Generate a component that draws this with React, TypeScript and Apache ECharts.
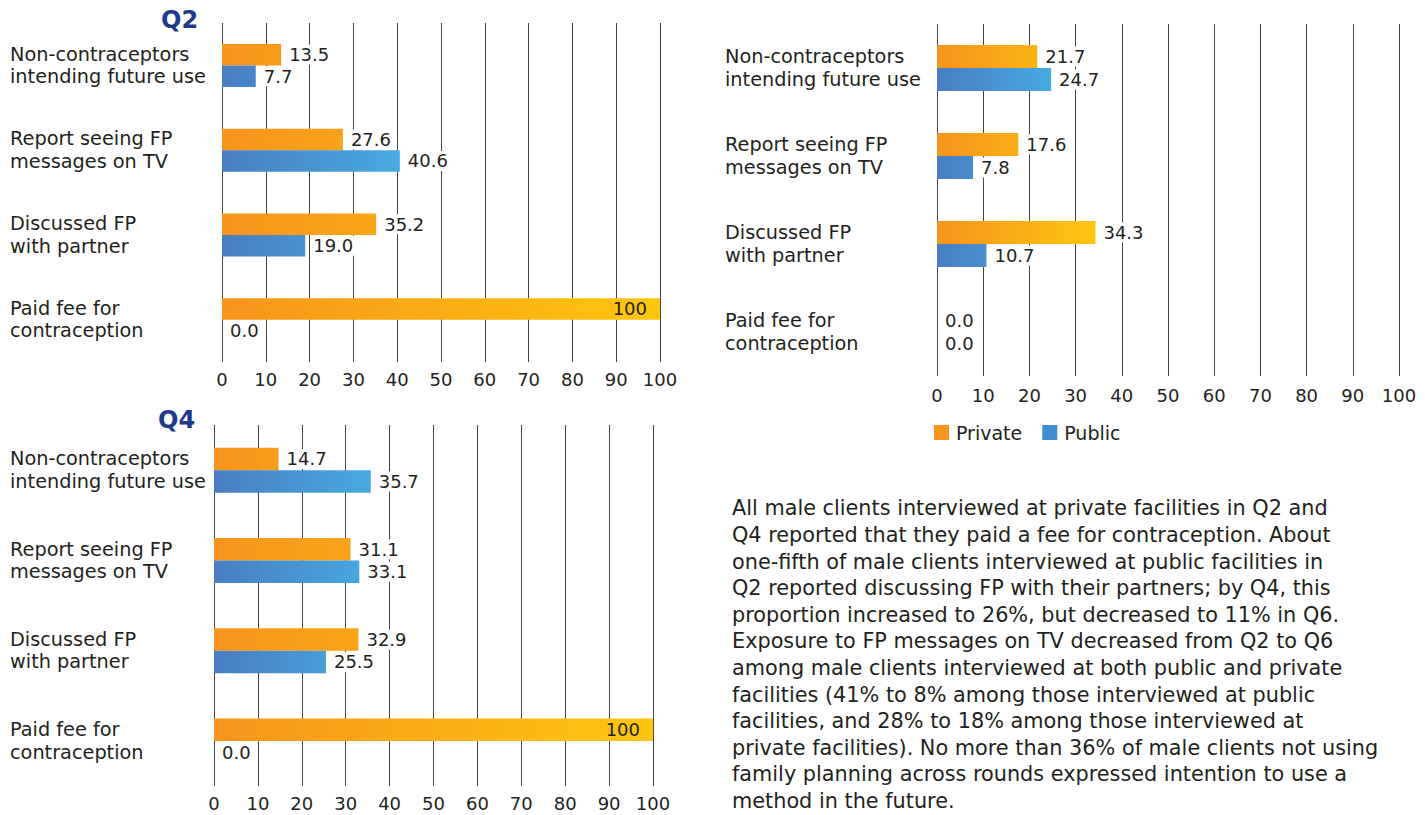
import React, { useEffect, useRef } from "react";
import * as echarts from "echarts";

// Indicator categories (top to bottom)
const categories = [
  "Non-contraceptors\nintending future use",
  "Report seeing FP\nmessages on TV",
  "Discussed FP\nwith partner",
  "Paid fee for\ncontraception",
];

// Percent of male clients, by facility type and round
const q2Private = [13.5, 27.6, 35.2, 100];
const q2Public = [7.7, 40.6, 19.0, 0.0];
const q4Private = [14.7, 31.1, 32.9, 100];
const q4Public = [35.7, 33.1, 25.5, 0.0];
const q6Private = [21.7, 17.6, 34.3, 0.0];
const q6Public = [24.7, 7.8, 10.7, 0.0];

const xTicks = { min: 0, max: 100, interval: 10 };

const paragraphLines = [
  "All male clients interviewed at private facilities in Q2 and",
  "Q4 reported that they paid a fee for contraception. About",
  "one-fifth of male clients interviewed at public facilities in",
  "Q2 reported discussing FP with their partners; by Q4, this",
  "proportion increased to 26%, but decreased to 11% in Q6.",
  "Exposure to FP messages on TV decreased from Q2 to Q6",
  "among male clients interviewed at both public and private",
  "facilities (41% to 8% among those interviewed at public",
  "facilities, and 28% to 18% among those interviewed at",
  "private facilities). No more than 36% of male clients not using",
  "family planning across rounds expressed intention to use a",
  "method in the future.",
];

const FONT = "'DejaVu Sans', sans-serif";
const TEXT = "#231F20";
const GRID_LINE = "#444";
const ORANGE = "#F7941D";
const YELLOW = "#FEC60F";
const BLUE_DARK = "#4A7DC2";
const BLUE_LIGHT = "#47AAE1";

// Panel geometry (pixels)
const panels = [
  { left: 222, top: 23, width: 438, height: 339, labelMargin: 212, tickMargin: 8, barWidth: 21.5, priv: q2Private, pub: q2Public },
  { left: 937, top: 24, width: 462, height: 352, labelMargin: 212, tickMargin: 10, barWidth: 23, priv: q6Private, pub: q6Public },
  { left: 214, top: 425, width: 439, height: 361, labelMargin: 204, tickMargin: 8, barWidth: 22.5, priv: q4Private, pub: q4Public },
];

const fmt = (v: number) => (v === 100 ? "100" : v.toFixed(1));

export default function App() {
  const ref = useRef<HTMLDivElement>(null);

  useEffect(() => {
    if (!ref.current) return;
    const chart = echarts.init(ref.current, undefined, { renderer: "svg" });

    const grid = panels.map((p) => ({ left: p.left, top: p.top, width: p.width, height: p.height, containLabel: false }));

    const xAxis = panels.map((p, i) => ({
      type: "value",
      gridIndex: i,
      min: xTicks.min,
      max: xTicks.max,
      interval: xTicks.interval,
      axisLine: { show: false },
      axisTick: { show: false },
      splitLine: { show: true, lineStyle: { color: GRID_LINE, width: 1 } },
      axisLabel: { color: TEXT, fontSize: 18, fontFamily: FONT, margin: p.tickMargin },
    }));

    const yAxis = panels.map((p, i) => ({
      type: "category",
      gridIndex: i,
      inverse: true,
      data: categories,
      axisLine: { show: false },
      axisTick: { show: false },
      axisLabel: {
        color: TEXT,
        fontSize: 19.3,
        fontFamily: FONT,
        align: "left",
        lineHeight: 22.5,
        margin: p.labelMargin,
      },
    }));

    const valueLabel = (inside: boolean) => ({
      show: true,
      position: inside ? "insideRight" : "right",
      distance: inside ? 13 : 5,
      color: TEXT,
      fontSize: 18,
      fontFamily: FONT,
      backgroundColor: inside ? "transparent" : "#fff",
      padding: inside ? 0 : [1, 3],
      formatter: (pr: any) => fmt(pr.value),
    });

    const series: any[] = [];
    panels.forEach((p, i) => {
      const privMax = Math.max(...p.priv);
      const pubMax = Math.max(...p.pub);
      const privEnd = p.left + (p.width * privMax) / 100;
      const pubEnd = p.left + (p.width * pubMax) / 100;
      const privGrad = new echarts.graphic.LinearGradient(
        p.left, 0, privEnd, 0,
        [{ offset: 0, color: ORANGE }, { offset: 1, color: YELLOW }],
        true
      );
      const pubGrad = new echarts.graphic.LinearGradient(
        p.left, 0, pubEnd, 0,
        [{ offset: 0, color: BLUE_DARK }, { offset: 1, color: BLUE_LIGHT }],
        true
      );
      series.push({
        name: "Private",
        type: "bar",
        xAxisIndex: i,
        yAxisIndex: i,
        barWidth: p.barWidth,
        barGap: "0%",
        itemStyle: { color: privGrad },
        data: p.priv.map((v) => ({ value: v, label: valueLabel(v === 100) })),
      });
      series.push({
        name: "Public",
        type: "bar",
        xAxisIndex: i,
        yAxisIndex: i,
        barWidth: p.barWidth,
        barGap: "0%",
        itemStyle: { color: pubGrad },
        data: p.pub.map((v) => ({ value: v, label: valueLabel(false) })),
      });
    });

    chart.setOption({
      animation: false,
      backgroundColor: "#fff",
      textStyle: { fontFamily: FONT },
      grid,
      xAxis,
      yAxis,
      series,
      legend: {
        left: 929,
        top: 418,
        itemWidth: 15,
        itemHeight: 15,
        itemGap: 20,
        icon: "rect",
        textStyle: { color: TEXT, fontSize: 19, fontFamily: FONT, padding: [0, 0, 0, 2] },
        data: [
          { name: "Private", itemStyle: { color: ORANGE } },
          { name: "Public", itemStyle: { color: "#3F8ED0" } },
        ],
      },
      graphic: [
        {
          type: "text",
          left: 161,
          top: 8,
          style: { text: "Q2", fill: "#20398B", font: `bold 24px ${FONT}` },
        },
        {
          type: "text",
          left: 158,
          top: 408,
          style: { text: "Q4", fill: "#20398B", font: `bold 24px ${FONT}` },
        },
        {
          type: "text",
          left: 732,
          top: 495,
          style: {
            text: paragraphLines.join("\n"),
            fill: TEXT,
            font: `20.8px ${FONT}`,
            lineHeight: 26.6,
          },
        },
      ],
    });

    return () => chart.dispose();
  }, []);

  return (
    <div
      ref={ref}
      style={{ position: "absolute", left: 0, top: 0, width: 1425, height: 815 }}
    />
  );
}
